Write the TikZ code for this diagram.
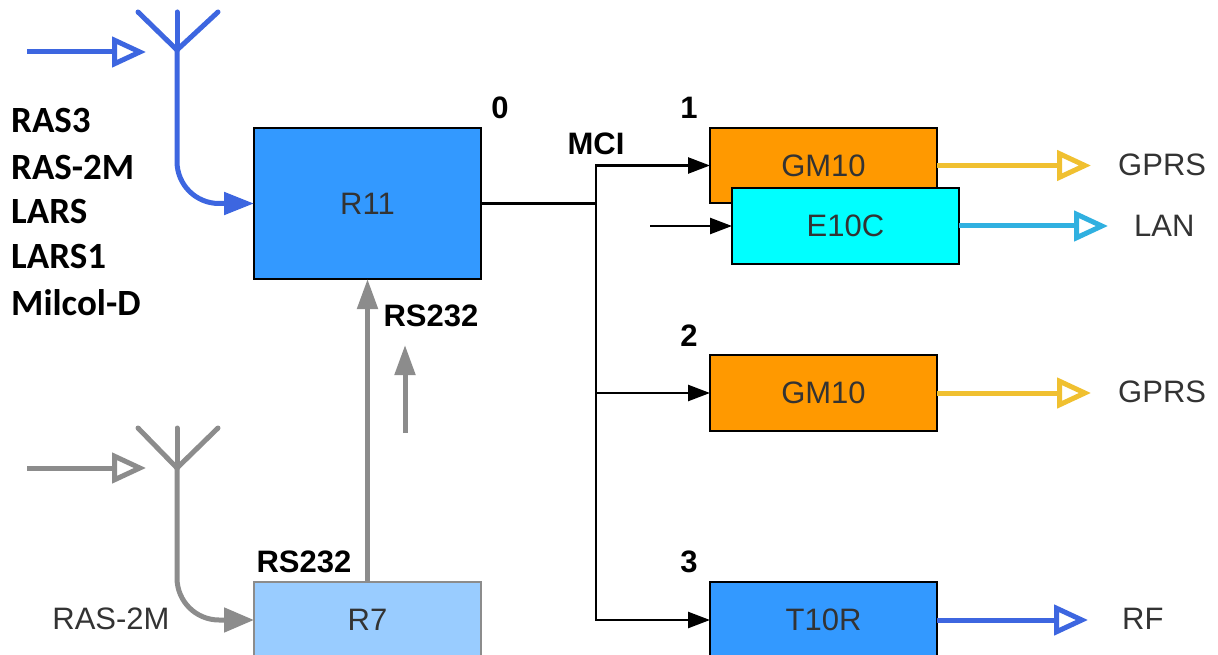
\documentclass[tikz,border=0pt]{standalone}
\usepackage{fontspec}
\setmainfont{Liberation Sans}
\newfontfamily\listfont{Carlito}
\usetikzlibrary{arrows.meta}
\definecolor{antblue}{HTML}{3D66E0}
\definecolor{antgrey}{HTML}{8C8C8C}
\definecolor{boxblue}{HTML}{3399FF}
\definecolor{boxlight}{HTML}{99CCFF}
\definecolor{boxorange}{HTML}{FF9900}
\definecolor{boxcyan}{HTML}{00FFFF}
\definecolor{gprsyellow}{HTML}{F0C030}
\definecolor{lanblue}{HTML}{30B0E0}
\definecolor{labelgrey}{HTML}{333333}
\tikzset{
  unitbox/.style={draw=black, line width=2.5pt, inner sep=0pt, outer sep=0pt, minimum width=227pt, text=labelgrey, font=\fontsize{31}{31}\selectfont},
  tag/.style={inner sep=0pt, text=labelgrey, font=\fontsize{31}{31}\selectfont},
  boldtag/.style={inner sep=0pt, font=\fontsize{31}{31}\selectfont\bfseries},
  listtag/.style={inner sep=0pt, anchor=west, font=\fontsize{37}{37}\selectfont\listfont\bfseries},
  opentip/.style={-{Triangle[open, length=34pt, width=30pt, fill=white]}, line width=5pt},
  bustip/.style={-{Triangle[length=22pt, width=16pt]}, line width=2.5pt},
}
\begin{document}
\begin{tikzpicture}[x=1pt, y=-1pt]
   \useasboundingbox (0,0) rectangle (1218,655);
   \clip (0,0) rectangle (1218,655);
   % units
   \node[unitbox, fill=boxblue, minimum height=151pt] (r11) at (367.5,203.5) {R11};
   \node[unitbox, fill=boxlight, draw=antgrey, minimum height=76pt] (r7) at (367.5,620) {R7};
   \node[unitbox, fill=boxorange, minimum height=75pt] (gm1) at (823.5,165.5) {GM10};
   \node[unitbox, fill=boxcyan, minimum height=76pt] (e10) at (845.5,226) {E10C};
   \node[unitbox, fill=boxorange, minimum height=76pt] (gm2) at (823.5,393) {GM10};
   \node[unitbox, fill=boxblue, minimum height=76pt] (t10) at (823.5,620) {T10R};
   % labels
   \node[listtag] (l1) at (11,120) {RAS3};
   \node[listtag] (l2) at (11,167) {RAS-2M};
   \node[listtag] (l3) at (11,211) {LARS};
   \node[listtag] (l4) at (11,256) {LARS1};
   \node[listtag] (l5) at (11,303) {Milcol-D};
   \node[boldtag] (n0) at (500,108) {0};
   \node[boldtag] (n1) at (689,108) {1};
   \node[boldtag] (n2) at (689,336) {2};
   \node[boldtag] (n3) at (689,562) {3};
   \node[boldtag] (mci) at (596,144) {MCI};
   \node[boldtag] (rsa) at (431,316) {RS232};
   \node[boldtag] (rsb) at (304,562) {RS232};
   \node[tag] (ras) at (111,619) {RAS-2M};
   \node[tag, anchor=west] (gprsa) at (1118,165) {GPRS};
   \node[tag, anchor=west] (lan) at (1134,226) {LAN};
   \node[tag, anchor=west] (gprsb) at (1118,392) {GPRS};
   \node[tag, anchor=west] (rf) at (1122,619) {RF};
   % blue antenna
   \coordinate (antb) at (177,50);
   \coordinate (antbl) at (138,12);
   \coordinate (antbm) at (177,12);
   \coordinate (antbr) at (218,12);
   \coordinate (inb) at (27,52);
   \coordinate (inbe) at (146,52);
   \draw[antblue, line width=5pt, line cap=round] (antbl) -- (antb) -- (antbr);
   \draw[antblue, line width=5pt, line cap=round] (antbm) -- (antb);
   \draw[antblue, opentip] (inb) -- (inbe);
   \draw[antblue, line width=5pt, rounded corners=42pt, -{Triangle[length=30pt, width=22pt]}] (antb) |- (r11.west);
   % grey antenna
   \coordinate (antg) at (177,468);
   \coordinate (antgl) at (138,428);
   \coordinate (antgm) at (177,428);
   \coordinate (antgr) at (218,428);
   \coordinate (ing) at (27,468);
   \coordinate (inge) at (146,468);
   \draw[antgrey, line width=5pt, line cap=round] (antgl) -- (antg) -- (antgr);
   \draw[antgrey, line width=5pt, line cap=round] (antgm) -- (antg);
   \draw[antgrey, opentip] (ing) -- (inge);
   \draw[antgrey, line width=5pt, rounded corners=42pt, -{Triangle[length=30pt, width=24pt]}] (antg) |- (r7.west);
   % RS232 link
   \coordinate (free) at (405,433);
   \coordinate (freee) at (405,345);
   \draw[antgrey, line width=5pt, -{Triangle[length=30pt, width=20pt]}] (r7.north) -- (r11.south);
   \draw[antgrey, line width=5pt, -{Triangle[length=30pt, width=20pt]}] (free) -- (freee);
   % MCI bus
   \coordinate (bus) at (596,203.5);
   \coordinate (ine) at (650,226);
   \draw[line width=2.5pt] (r11.east) -- (bus);
   \draw[bustip] (bus) |- (gm1.west);
   \draw[bustip] (bus) |- (t10.west);
   \draw[bustip] (bus |- gm2.west) -- (gm2.west);
   \draw[bustip] (ine) -- (e10.west);
   % outputs
   \coordinate (outa) at (1091,165.5);
   \coordinate (outb) at (1108,226);
   \coordinate (outc) at (1091,393);
   \coordinate (outd) at (1088,620);
   \draw[gprsyellow, opentip] (gm1.east) -- (outa);
   \draw[lanblue, opentip] (e10.east) -- (outb);
   \draw[gprsyellow, opentip] (gm2.east) -- (outc);
   \draw[antblue, opentip] (t10.east) -- (outd);
\end{tikzpicture}
\end{document}
